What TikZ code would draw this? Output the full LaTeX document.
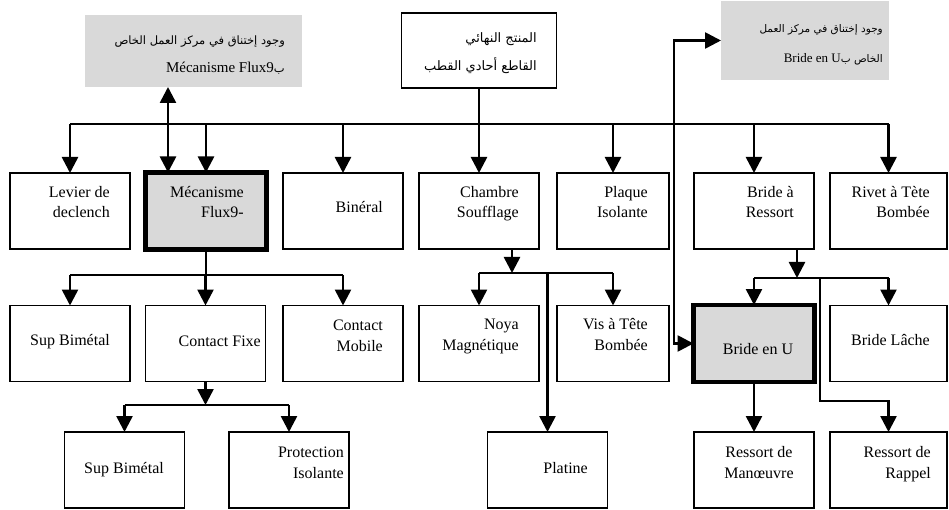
\documentclass[tikz,border=0pt]{standalone}
\usepackage{fontspec}
\setmainfont{Liberation Serif}
\newfontfamily\arabicfont[Script=Arabic]{DejaVu Sans}
\TeXXeTstate=1
\usetikzlibrary{arrows.meta}
\definecolor{boxgray}{RGB}{217,217,217}
\tikzset{
  box/.style={draw, line width=1.8pt, inner sep=0pt, outer sep=0pt},
  wbox/.style={box, minimum width=120pt, minimum height=76pt},
  thickbox/.style={box, line width=4.5pt, fill=boxgray, minimum width=121pt, minimum height=77pt},
  graybox/.style={fill=boxgray, inner sep=0pt, outer sep=0pt},
  lbl/.style={inner sep=0pt, font=\fontsize{16}{20.5}\selectfont, align=right},
  lblc/.style={inner sep=0pt, font=\fontsize{16}{20.5}\selectfont, align=center},
  conn/.style={line width=2.6pt},
  arr/.style={conn, -{Triangle[length=16pt,width=16pt]}},
  arrboth/.style={conn, {Triangle[length=16pt,width=16pt]}-{Triangle[length=16pt,width=16pt]}},
}
\begin{document}
\begin{tikzpicture}[x=1pt,y=-1pt]
\useasboundingbox (0,0) rectangle (949,510);
% top boxes
\node[graybox, minimum width=217pt, minimum height=72pt] (g1) at (193.5,51) {};
\node[box, minimum width=155pt, minimum height=75pt] (prod) at (479,50.5) {};
\node[graybox, minimum width=168pt, minimum height=79pt] (g2) at (805,40.5) {};
% row 1
\node[wbox] (lev) at (70,211) {};
\node[thickbox] (mec) at (206,211) {};
\node[wbox] (bin) at (343,211) {};
\node[wbox] (cha) at (479,211) {};
\node[wbox, minimum width=112pt] (pla) at (613,211) {};
\node[wbox] (bra) at (754,211) {};
\node[wbox, minimum width=117pt] (riv) at (888.5,211) {};
% row 2
\node[wbox] (sup1) at (70,343.5) {};
\node[wbox] (cfx) at (205.5,343.5) {};
\node[wbox] (cmo) at (343,343.5) {};
\node[wbox] (noy) at (479,343.5) {};
\node[wbox, minimum width=112pt] (vis) at (613,343.5) {};
\node[thickbox] (bru) at (754,343.5) {};
\node[wbox, minimum width=117pt] (brl) at (888.5,343.5) {};
% row 3
\node[wbox] (sup2) at (124.5,470) {};
\node[wbox] (pro) at (289,470) {};
\node[wbox] (plat) at (547.5,470) {};
\node[wbox] (rma) at (754,470) {};
\node[wbox, minimum width=117pt] (rra) at (888.5,470) {};
% texts
\node[inner sep=0pt, anchor=base east, align=right, font=\arabicfont\fontsize{11.5}{28}\selectfont] (g1T) at (285,73)
  {\beginR وجود إختناق في مركز العمل الخاص\endR\\\beginR ب\beginL{\rmfamily\fontsize{15}{28}\selectfont Mécanisme Flux9}\endL\endR};
\node[inner sep=0pt, anchor=base east, align=right, font=\arabicfont\fontsize{13}{28}\selectfont] (prodT) at (537,71)
  {\beginR المنتج النهائي\endR\\\beginR القاطع أحادي القطب\endR};
\node[inner sep=0pt, anchor=base east, align=right, font=\arabicfont\fontsize{10.5}{30}\selectfont] (g2T) at (883,63)
  {\beginR وجود إختناق في مركز العمل\endR\\\beginR الخاص ب\beginL{\rmfamily\fontsize{13}{30}\selectfont Bride en U}\endL\endR};
\node[lbl, anchor=base east] (levT) at (110,218) {Levier de\\declench};
\node[lbl, anchor=base east] (mecT) at (244,218) {Mécanisme\\Flux9-};
\node[lbl, anchor=base east] (binT) at (383,213) {Binéral};
\node[lbl, anchor=base east] (chaT) at (519,218) {Chambre\\Soufflage};
\node[lbl, anchor=base east] (plaT) at (648,218) {Plaque\\Isolante};
\node[lbl, anchor=base east] (braT) at (794,218) {Bride à\\Ressort};
\node[lbl, anchor=base east] (rivT) at (930,218) {Rivet à Tète\\Bombée};
\node[lbl, anchor=base east] (sup1T) at (110,345) {Sup Bimétal};
\node[lbl, anchor=base east] (cfxT) at (261,346) {Contact Fixe};
\node[lbl, anchor=base east] (cmoT) at (383,351) {Contact\\Mobile};
\node[lbl, anchor=base east] (noyT) at (519,350) {Noya\\Magnétique};
\node[lbl, anchor=base east] (visT) at (648,350) {Vis à Tête\\Bombée};
\node[lblc, anchor=base] (bruT) at (758,354) {Bride en U};
\node[lbl, anchor=base east] (brlT) at (930,345) {Bride Lâche};
\node[lbl, anchor=base east] (sup2T) at (164,473) {Sup Bimétal};
\node[lbl, anchor=base east] (proT) at (344,478) {Protection\\Isolante};
\node[lbl, anchor=base east] (platT) at (588,473) {Platine};
\node[lblc, anchor=base] (rmaT) at (759,478) {Ressort de\\Manœuvre};
\node[lbl, anchor=base east] (rraT) at (931,478) {Ressort de\\Rappel};
% main bus
\coordinate (bus) at (0,124);
\draw[conn] (lev.north |- bus) -- (riv.north |- bus);
\foreach \n in {lev,mec,bin,pla,bra,riv} \draw[arr] (\n.north |- bus) -- (\n.north);
\draw[arr] (prod.south) -- (cha.north);
\coordinate (dx) at (168,0);
\draw[arrboth] (g1.south -| dx) -- (mec.north -| dx);
\coordinate (ux) at (674,200);
\draw[arrboth] (g2.west) -| (ux) |- (bru.west);
% mec children
\coordinate (bus2) at (0,275);
\draw[conn] (mec.south) -- (mec.south |- bus2);
\draw[conn] (sup1.north |- bus2) -- (cmo.north |- bus2);
\foreach \n in {sup1,cfx,cmo} \draw[arr] (\n.north |- bus2) -- (\n.north);
% cfx children
\coordinate (bus3) at (0,405);
\draw[arr] (cfx.south) -- (cfx.south |- bus3);
\draw[conn] (sup2.north |- bus3) -- (pro.north |- bus3);
\foreach \n in {sup2,pro} \draw[arr] (\n.north |- bus3) -- (\n.north);
% cha children
\coordinate (bus4) at (512,273);
\draw[arr] (cha.south -| bus4) -- (bus4);
\draw[conn] (noy.north |- bus4) -- (vis.north |- bus4);
\foreach \n in {noy,vis,plat} \draw[arr] (\n.north |- bus4) -- (\n.north);
% bra children
\coordinate (bus5) at (797,278);
\draw[arr] (bra.south -| bus5) -- (bus5);
\draw[conn] (bru.north |- bus5) -- (brl.north |- bus5);
\foreach \n in {bru,brl} \draw[arr] (\n.north |- bus5) -- (\n.north);
\coordinate (rx) at (820,401);
\draw[arr] (rx |- bus5) -- (rx) -| (rra.north);
\draw[arr] (bru.south) -- (rma.north);
\end{tikzpicture}
\end{document}
